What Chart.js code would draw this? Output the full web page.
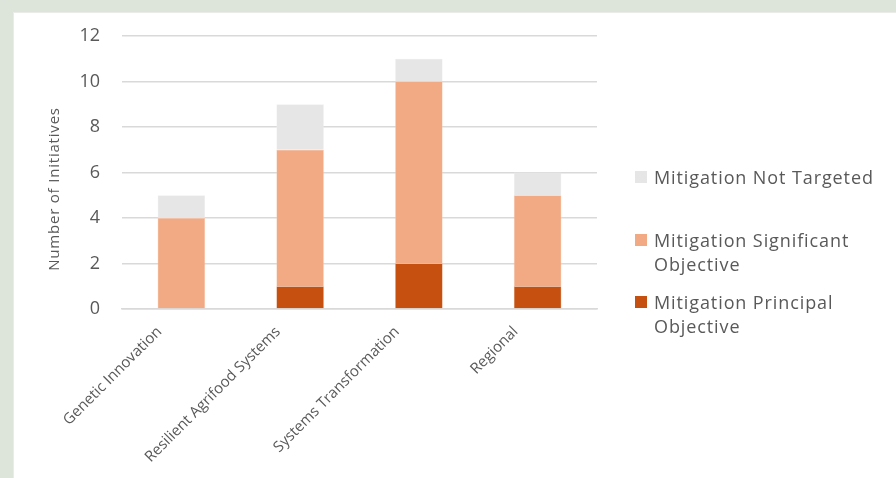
<!DOCTYPE html>
<html>
<head>
<meta charset="utf-8">
<script src="https://cdn.jsdelivr.net/npm/chart.js@4"></script>
<style>
  body { margin: 0; background: #dde5da; width: 896px; height: 478px; overflow: hidden; position: relative; font-family: "Open Sans", sans-serif; }
  .panel { position: absolute; left: 13px; top: 12px; width: 900px; height: 480px; background: #fff; border: 1px solid #e9ece8; }
  #chart { position: absolute; left: 0; top: 0; }
  #legend { position: absolute; left: 635px; top: 165px; color: #595959; font-size: 18px; line-height: 24px; letter-spacing: 0.9px; }
  #legend .item { position: relative; padding-left: 19px; width: 235px; margin-bottom: 14px; }
  #legend .item:first-child { margin-bottom: 39px; }
  #legend .box { position: absolute; left: 0; top: 6px; width: 12px; height: 12px; }
</style>
</head>
<body>
<div class="panel"></div>
<canvas id="chart" width="896" height="478"></canvas>
<div id="legend"></div>
<script>
const categories = ["Genetic Innovation", "Resilient Agrifood Systems", "Systems Transformation", "Regional"];
const principal = [0, 1, 2, 1];
const significant = [4, 6, 8, 4];
const notTargeted = [1, 2, 1, 1];
const yTicks = [0, 2, 4, 6, 8, 10, 12];

const textColor = "#595959";

// y axis title drawn by hand so it can sit where the original has it
const yTitle = {
  id: "yTitle",
  afterDraw(chart) {
    const ctx = chart.ctx;
    ctx.save();
    ctx.translate(55, 189);
    ctx.rotate(-Math.PI / 2);
    ctx.font = "15px 'Open Sans'";
    ctx.letterSpacing = "0.8px";
    ctx.fillStyle = textColor;
    ctx.textAlign = "center";
    ctx.textBaseline = "middle";
    ctx.fillText("Number of Initiatives", 0, 0);
    ctx.restore();
  }
};

const chart = new Chart(document.getElementById("chart"), {
  type: "bar",
  data: {
    labels: categories,
    datasets: [
      { label: "Mitigation Principal Objective", data: principal, backgroundColor: "#c5500f", borderColor: "#e08a5c", borderWidth: 0.5 },
      { label: "Mitigation Significant Objective", data: significant, backgroundColor: "#f2aa84", borderColor: "#f8cbb1", borderWidth: 0.5 },
      { label: "Mitigation Not Targeted", data: notTargeted, backgroundColor: "#e7e6e6", borderColor: "#efefef", borderWidth: 0.5 }
    ]
  },
  options: {
    responsive: false,
    animation: false,
    layout: { padding: { left: 0, right: 299, top: 36, bottom: 0 } },
    datasets: { bar: { categoryPercentage: 0.8, barPercentage: 0.5 } },
    plugins: { legend: { display: false }, tooltip: { enabled: false } },
    scales: {
      x: {
        stacked: true,
        grid: { display: false },
        border: { color: "#d9d9d9", width: 1.5 },
        ticks: { color: textColor, font: { family: "Open Sans", size: 15 }, minRotation: 45, maxRotation: 45, padding: 6, labelOffset: -22 },
        afterFit(s) { s.height = 169; }
      },
      y: {
        stacked: true,
        min: 0,
        max: 12,
        afterBuildTicks(s) { s.ticks = yTicks.map(v => ({ value: v })); },
        grid: { color: "#d9d9d9", lineWidth: 1.5, drawTicks: false },
        border: { display: false },
        ticks: { color: textColor, font: { family: "Open Sans", size: 18 }, padding: 22 },
        afterFit(s) { s.width = 122; }
      }
    }
  },
  plugins: [yTitle]
});

// legend in the same order as the original (top of stack first)
const legend = document.getElementById("legend");
chart.data.datasets.slice().reverse().forEach(ds => {
  const item = document.createElement("div");
  item.className = "item";
  item.innerHTML = '<span class="box" style="background:' + ds.backgroundColor + '"></span>' + ds.label;
  legend.appendChild(item);
});
</script>
</body>
</html>
